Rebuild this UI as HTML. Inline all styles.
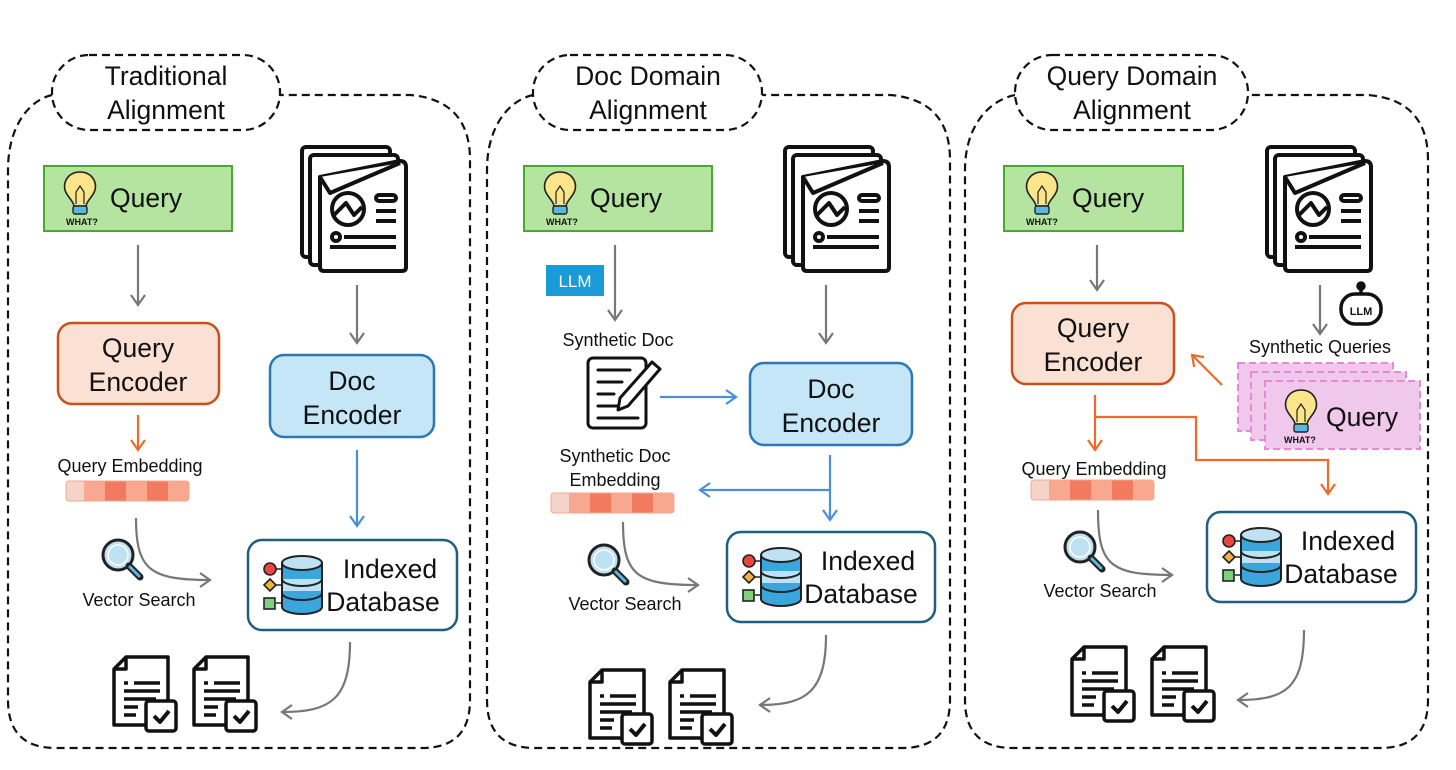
<!DOCTYPE html>
<html><head><meta charset="utf-8"><style>
html,body{margin:0;padding:0;background:#fff}
svg{display:block}
text{font-family:"Liberation Sans",sans-serif;fill:#111}
.t24{font-size:26.5px}
.t16{font-size:18px}
.w{font-size:9px;font-weight:bold}
</style></head><body>
<svg width="1456" height="770" viewBox="0 0 1456 770" xmlns="http://www.w3.org/2000/svg">
<defs>
<marker id="ag" markerWidth="16" markerHeight="16" refX="12" refY="8" orient="auto" markerUnits="userSpaceOnUse"><path d="M2,1 L12,8 L2,15" fill="none" stroke="#777" stroke-width="2.2"/></marker>
<marker id="ao" markerWidth="16" markerHeight="16" refX="12" refY="8" orient="auto" markerUnits="userSpaceOnUse"><path d="M2,1 L12,8 L2,15" fill="none" stroke="#ee6a2a" stroke-width="2.2"/></marker>
<marker id="ab" markerWidth="16" markerHeight="16" refX="12" refY="8" orient="auto" markerUnits="userSpaceOnUse"><path d="M2,1 L12,8 L2,15" fill="none" stroke="#4a8fd8" stroke-width="2.2"/></marker>
<g id="bulb">
<path d="M0,-20 C-12,-20 -17,-10 -15,-2 C-13,5 -7,8 -6,14 L6,14 C7,8 13,5 15,-2 C17,-10 12,-20 0,-20Z" fill="#fbe58a" stroke="#222" stroke-width="1.6"/>
<path d="M-4,12 L-4,0 L0,-6 L4,0 L4,12" fill="none" stroke="#222" stroke-width="1.2"/>
<rect x="-7" y="14" width="14" height="8" rx="2" fill="#5ab9e0" stroke="#222" stroke-width="1.4"/>
</g>
<g id="docs" fill="#fff" stroke="#111" stroke-width="4" stroke-linejoin="round">
<rect x="2" y="2" width="88" height="110" rx="4"/>
<rect x="10" y="10" width="88" height="110" rx="4"/>
<path d="M20,32 L100,16 Q106,16 106,22 L106,122 Q106,126 102,126 L24,126 Q20,126 20,122 Z"/>
<path d="M20,32 L30,48 L100,18" fill="#fff"/>
<circle cx="48" cy="64" r="16"/>
<path d="M34,70 L46,58 L54,70 L62,62" fill="none"/>
<rect x="76" y="50" width="20" height="6" rx="3"/>
<path d="M76,66 H96 M76,76 H96 M44,92 H96 M30,102 H96" fill="none"/>
<circle cx="36" cy="92" r="4"/>
</g>
<g id="res" fill="#fff" stroke="#111" stroke-width="3.5" stroke-linejoin="round">
<path d="M14,2 H56 V70 H2 V14 Z"/>
<path d="M2,14 H14 V2" fill="none"/>
<path d="M12,28 H16 M22,28 H48 M12,36 H48 M12,44 H44 M12,52 H26 M12,60 H24" fill="none"/>
<rect x="34" y="46" width="30" height="30" rx="3"/>
<path d="M42,61 L48,67 L57,56" fill="none" stroke-width="4"/>
</g>
<g id="db">
<circle cx="-24" cy="-16" r="6" fill="#e8463f" stroke="#222" stroke-width="1.6"/>
<path d="M-24,-6 L-18,0 L-24,6 L-30,0Z" fill="#f2b33d" stroke="#222" stroke-width="1.6"/>
<rect x="-30" y="13" width="11" height="11" fill="#7ed07a" stroke="#222" stroke-width="1.6"/>
<path d="M-18,-16 H-10 M-18,0 H-10 M-18,18 H-10" stroke="#222" stroke-width="1.6"/>
<path d="M-12,-22 V22 A20,7 0 0 0 28,22 V-22" fill="#3aa6dc" stroke="#222" stroke-width="2"/>
<rect x="-11" y="-6" width="38" height="12" fill="#bfe2f2"/>
<path d="M-12,-6 A20,7 0 0 0 28,-6 M-12,8 A20,7 0 0 0 28,8" fill="none" stroke="#222" stroke-width="2"/>
<ellipse cx="8" cy="-22" rx="20" ry="7" fill="#bfe2f2" stroke="#222" stroke-width="2"/>
</g>
<g id="mag">
<circle cx="0" cy="0" r="15" fill="#bfe2f2" stroke="#222" stroke-width="3"/>
<circle cx="0" cy="0" r="10" fill="none" stroke="#fff" stroke-width="1.5"/>
<path d="M11,11 L22,22" stroke="#222" stroke-width="7" stroke-linecap="round"/>
<path d="M12,12 L21,21" stroke="#5ab9e0" stroke-width="3" stroke-linecap="round"/>
</g>
<g id="emb">
<rect x="0" y="0" width="123" height="20" rx="3" fill="#f4d4c8"/>
<rect x="18" y="0" width="21" height="20" fill="#f8a88e"/>
<rect x="39" y="0" width="21" height="20" fill="#f27a5e"/>
<rect x="60" y="0" width="21" height="20" fill="#f8a88e"/>
<rect x="81" y="0" width="21" height="20" fill="#f27a5e"/>
<rect x="102" y="0" width="21" height="20" rx="3" fill="#f8a88e"/>
<rect x="0" y="0" width="123" height="20" rx="3" fill="none" stroke="#f4a890" stroke-width="1"/>
</g>
</defs>

<g fill="none" stroke="#111" stroke-width="2.2" stroke-dasharray="8,5">
<path d="M52,95 C30,100 8,125 8,170 V700 Q8,748 56,748 H422 Q470,748 470,700 V160 Q470,100 410,95 H280"/>
<rect x="52" y="55" width="228" height="75" rx="37" fill="#fff"/>
<path d="M533,95 C510,100 487,125 487,170 V700 Q487,748 535,748 H902 Q950,748 950,700 V160 Q950,100 890,95 H762"/>
<rect x="533" y="55" width="229" height="75" rx="37" fill="#fff"/>
<path d="M1015,95 C990,100 965,125 965,170 V700 Q965,748 1013,748 H1380 Q1428,748 1428,700 V160 Q1428,100 1368,95 H1248"/>
<rect x="1015" y="55" width="233" height="75" rx="37" fill="#fff"/>
</g>
<g class="t24" text-anchor="middle">
<text x="166" y="85">Traditional</text><text x="166" y="119">Alignment</text>
<text x="648" y="85">Doc Domain</text><text x="648" y="119">Alignment</text>
<text x="1132" y="85">Query Domain</text><text x="1132" y="119">Alignment</text>
</g>

<!-- Panel 1 -->
<rect x="44" y="166" width="188" height="65" fill="#b5e3a0" stroke="#4aa830" stroke-width="2"/>
<use href="#bulb" x="80" y="192"/><text class="w" x="66" y="225">WHAT?</text>
<text class="t24" x="110" y="207">Query</text>
<path d="M138,245 V305" stroke="#777" stroke-width="2.2" fill="none" marker-end="url(#ag)"/>
<rect x="58" y="323" width="161" height="81" rx="14" fill="#fbe0d4" stroke="#c8521c" stroke-width="2.5"/>
<text class="t24" x="138" y="357" text-anchor="middle">Query</text><text class="t24" x="138" y="391" text-anchor="middle">Encoder</text>
<path d="M138,415 V450" stroke="#ee6a2a" stroke-width="2.2" fill="none" marker-end="url(#ao)"/>
<text class="t16" x="130" y="472" text-anchor="middle">Query Embedding</text>
<use href="#emb" x="66" y="481"/>
<use href="#mag" x="118" y="555"/>
<path d="M136,518 C136,570 150,580 210,580" stroke="#777" stroke-width="2.2" fill="none" marker-end="url(#ag)"/>
<text class="t16" x="139" y="606" text-anchor="middle">Vector Search</text>
<use href="#docs" x="300" y="145"/>
<path d="M357,285 V343" stroke="#777" stroke-width="2.2" fill="none" marker-end="url(#ag)"/>
<rect x="270" y="355" width="164" height="82" rx="14" fill="#c5e6f7" stroke="#2a78b8" stroke-width="2.5"/>
<text class="t24" x="352" y="390" text-anchor="middle">Doc</text><text class="t24" x="352" y="424" text-anchor="middle">Encoder</text>
<path d="M357,450 V526" stroke="#4a8fd8" stroke-width="2.2" fill="none" marker-end="url(#ab)"/>
<rect x="248" y="540" width="209" height="90" rx="14" fill="#fff" stroke="#1f5f7f" stroke-width="2.5"/>
<use href="#db" x="294" y="585"/>
<text class="t24" x="390" y="578" text-anchor="middle">Indexed</text><text class="t24" x="383" y="611" text-anchor="middle">Database</text>
<path d="M350,642 C350,700 330,712 282,712" stroke="#777" stroke-width="2.2" fill="none" marker-end="url(#ag)"/>
<use href="#res" x="112" y="655"/><use href="#res" x="192" y="655"/>

<!-- Panel 2 -->
<rect x="524" y="166" width="188" height="65" fill="#b5e3a0" stroke="#4aa830" stroke-width="2"/>
<use href="#bulb" x="560" y="192"/><text class="w" x="546" y="225">WHAT?</text>
<text class="t24" x="590" y="207">Query</text>
<rect x="546" y="265" width="58" height="31" fill="#1a9ad6"/>
<text x="575" y="287" font-size="17" text-anchor="middle" style="fill:#fff">LLM</text>
<path d="M615,245 V320" stroke="#777" stroke-width="2.2" fill="none" marker-end="url(#ag)"/>
<text class="t16" x="618" y="346" text-anchor="middle">Synthetic Doc</text>
<g fill="none" stroke="#111" stroke-width="3" stroke-linejoin="round" stroke-linecap="round">
<rect x="588" y="358" width="58" height="70" rx="5" fill="#fff"/>
<path d="M598,370 H630 M598,382 H622 M598,394 H614 M598,406 H618 M598,418 H638"/>
<path d="M620,398 L652,362 L660,369 L628,406 L618,410 Z" fill="#fff"/>
</g>
<path d="M660,397 H736" stroke="#4a8fd8" stroke-width="2.2" fill="none" marker-end="url(#ab)"/>
<use href="#docs" x="783" y="145"/>
<path d="M826,285 V343" stroke="#777" stroke-width="2.2" fill="none" marker-end="url(#ag)"/>
<rect x="750" y="363" width="162" height="82" rx="14" fill="#c5e6f7" stroke="#2a78b8" stroke-width="2.5"/>
<text class="t24" x="831" y="398" text-anchor="middle">Doc</text><text class="t24" x="831" y="432" text-anchor="middle">Encoder</text>
<path d="M830,455 V520" stroke="#4a8fd8" stroke-width="2.2" fill="none" marker-end="url(#ab)"/>
<path d="M830,490 H700" stroke="#4a8fd8" stroke-width="2.2" fill="none" marker-end="url(#ab)"/>
<text class="t16" x="615" y="462" text-anchor="middle">Synthetic Doc</text><text class="t16" x="615" y="486" text-anchor="middle">Embedding</text>
<use href="#emb" x="551" y="493"/>
<use href="#mag" x="604" y="560"/>
<path d="M623,522 C623,575 636,585 698,585" stroke="#777" stroke-width="2.2" fill="none" marker-end="url(#ag)"/>
<text class="t16" x="625" y="610" text-anchor="middle">Vector Search</text>
<rect x="727" y="532" width="208" height="90" rx="14" fill="#fff" stroke="#1f5f7f" stroke-width="2.5"/>
<use href="#db" x="773" y="577"/>
<text class="t24" x="868" y="570" text-anchor="middle">Indexed</text><text class="t24" x="861" y="603" text-anchor="middle">Database</text>
<path d="M826,635 C826,692 806,705 760,705" stroke="#777" stroke-width="2.2" fill="none" marker-end="url(#ag)"/>
<use href="#res" x="588" y="668"/><use href="#res" x="668" y="668"/>

<!-- Panel 3 -->
<rect x="1004" y="166" width="179" height="65" fill="#b5e3a0" stroke="#4aa830" stroke-width="2"/>
<use href="#bulb" x="1042" y="192"/><text class="w" x="1026" y="225">WHAT?</text>
<text class="t24" x="1072" y="207">Query</text>
<path d="M1097,245 V290" stroke="#777" stroke-width="2.2" fill="none" marker-end="url(#ag)"/>
<rect x="1012" y="303" width="162" height="81" rx="14" fill="#fbe0d4" stroke="#c8521c" stroke-width="2.5"/>
<text class="t24" x="1093" y="337" text-anchor="middle">Query</text><text class="t24" x="1093" y="371" text-anchor="middle">Encoder</text>
<path d="M1095,395 V450" stroke="#ee6a2a" stroke-width="2.2" fill="none" marker-end="url(#ao)"/>
<path d="M1095,417 H1196 V460 H1328 V494" stroke="#ee6a2a" stroke-width="2.2" fill="none" marker-end="url(#ao)"/>
<text class="t16" x="1094" y="475" text-anchor="middle">Query Embedding</text>
<use href="#emb" x="1031" y="480"/>
<use href="#mag" x="1080" y="547"/>
<path d="M1098,510 C1098,565 1110,575 1172,575" stroke="#777" stroke-width="2.2" fill="none" marker-end="url(#ag)"/>
<text class="t16" x="1100" y="597" text-anchor="middle">Vector Search</text>
<rect x="1207" y="512" width="209" height="90" rx="14" fill="#fff" stroke="#1f5f7f" stroke-width="2.5"/>
<use href="#db" x="1253" y="557"/>
<text class="t24" x="1348" y="550" text-anchor="middle">Indexed</text><text class="t24" x="1341" y="583" text-anchor="middle">Database</text>
<path d="M1304,630 C1304,688 1286,700 1238,700" stroke="#777" stroke-width="2.2" fill="none" marker-end="url(#ag)"/>
<use href="#res" x="1070" y="645"/><use href="#res" x="1150" y="645"/>
<use href="#docs" x="1265" y="145"/>
<path d="M1320,285 V334" stroke="#777" stroke-width="2.2" fill="none" marker-end="url(#ag)"/>
<g stroke="#111" stroke-width="3.5" fill="#fff">
<circle cx="1361" cy="286" r="3" fill="#111"/>
<path d="M1361,289 V294"/>
<rect x="1341" y="294" width="40" height="30" rx="14"/>
</g>
<text x="1361" y="315" font-size="11" font-weight="bold" text-anchor="middle">LLM</text>
<text class="t16" x="1320" y="353" text-anchor="middle">Synthetic Queries</text>
<g fill="#f0c8ec" stroke="#e48ad8" stroke-width="2" stroke-dasharray="7,4">
<rect x="1238" y="363" width="155" height="68"/>
<rect x="1251" y="372" width="155" height="68"/>
<rect x="1265" y="381" width="155" height="68"/>
</g>
<use href="#bulb" x="1301" y="410"/><text class="w" x="1284" y="443">WHAT?</text>
<text class="t24" x="1326" y="426">Query</text>
<path d="M1222,385 L1192,355" stroke="#ee6a2a" stroke-width="2.2" fill="none" marker-end="url(#ao)"/>
</svg>
</body></html>
